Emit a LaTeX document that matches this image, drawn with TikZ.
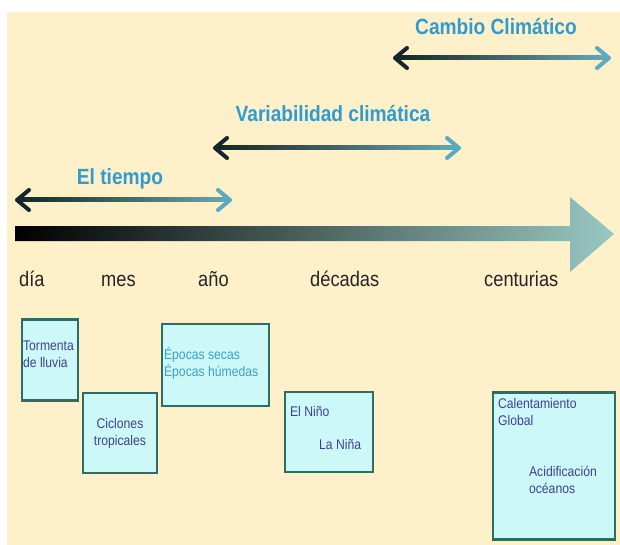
\documentclass[tikz,border=0pt]{standalone}
\usepackage{fontspec}
\setmainfont{Liberation Sans}
\newfontfamily\narrowfont[FakeStretch=0.87]{Liberation Sans}
\usetikzlibrary{calc}
\definecolor{cream}{HTML}{FEF0C9}
\definecolor{spandark}{HTML}{15252D}
\definecolor{spanlight}{HTML}{5AAAC4}
\definecolor{titleblue}{HTML}{2F9BD0}
\definecolor{axisend}{HTML}{98C8C4}
\definecolor{boxfill}{HTML}{CCF8F8}
\definecolor{boxline}{HTML}{2E6E62}
\definecolor{boxtext}{HTML}{404092}
\definecolor{epocas}{HTML}{3AA2C4}

\begin{document}
\begin{tikzpicture}[x=1pt, y=-1pt, title/.style={font=\narrowfont\fontsize{22}{24}\selectfont\bfseries, text=titleblue, inner sep=0pt, anchor=base}, ticklabel/.style={font=\narrowfont\fontsize{21}{24}\selectfont, text=black!85, inner sep=0pt, anchor=base west}, box/.style={draw=boxline, line width=2.2pt, fill=boxfill, inner sep=0pt}, boxtxt/.style={font=\narrowfont\fontsize{14}{17}\selectfont, text=boxtext, inner sep=0pt, align=left}, head/.style={line width=4pt, line cap=round, line join=round}]
\useasboundingbox (0,0) rectangle (620,545);
\fill[cream] (7,12) rectangle (620,545);
% time spans
\node[title] (cc) at (496,35) {Cambio Climático};
\node[title] (vc) at (333,122) {Variabilidad climática};
\node[title] (et) at (120,185) {El tiempo};
\coordinate (cc-l) at (395,58); \coordinate (cc-r) at (609,58);
\coordinate (vc-l) at (215,148); \coordinate (vc-r) at (459,148);
\coordinate (et-l) at (17,200); \coordinate (et-r) at (230,200);
\foreach \s in {cc, vc, et} {
  \shade[left color=spandark, right color=spanlight] ($(\s-l)+(3,-2)$) rectangle ($(\s-r)+(-3,2)$);
  \draw[head, spandark] ($(\s-l)+(12,-10)$) -- (\s-l) -- ($(\s-l)+(12,10)$);
  \draw[head, spanlight] ($(\s-r)+(-12,-10)$) -- (\s-r) -- ($(\s-r)+(-12,10)$);
}
% time axis
\shade[left color=black, right color=axisend] (15,226) -- (570,226) -- (570,197) -- (614,234) -- (570,272) -- (570,241) -- (15,241) -- cycle;
\node[ticklabel] (dia) at (19,286) {día};
\node[ticklabel] (mes) at (101,286) {mes};
\node[ticklabel] (ano) at (198,286) {año};
\node[ticklabel] (dec) at (310,286) {décadas};
\node[ticklabel] (cen) at (484,286) {centurias};
% phenomena
\node[box, minimum width=56pt, minimum height=81pt] (storm) at (50,360) {};
\node[boxtxt, anchor=north west] at ($(storm.north west)+(2,22)$) {Tormenta\\de lluvia};
\node[box, minimum width=74pt, minimum height=80pt, boxtxt, align=center] (cyc) at (120,433) {Ciclones\\tropicales};
\node[box, minimum width=107pt, minimum height=82pt] (epo) at (215.5,365) {};
\node[boxtxt, text=epocas, anchor=north west] at ($(epo.north west)+(3,24)$) {Épocas secas\\Épocas húmedas};
\node[box, minimum width=88pt, minimum height=80pt] (nino) at (329,432) {};
\node[boxtxt, anchor=north west] at ($(nino.north west)+(6,15)$) {El Niño};
\node[boxtxt, anchor=north west] at ($(nino.north west)+(35,48)$) {La Niña};
\node[box, minimum width=122pt, minimum height=147pt] (glob) at (554,466) {};
\node[boxtxt, anchor=north west] at ($(glob.north west)+(6,7)$) {Calentamiento\\Global};
\node[boxtxt, anchor=north west] at ($(glob.north west)+(37,75)$) {Acidificación\\océanos};
\end{tikzpicture}
\end{document}
